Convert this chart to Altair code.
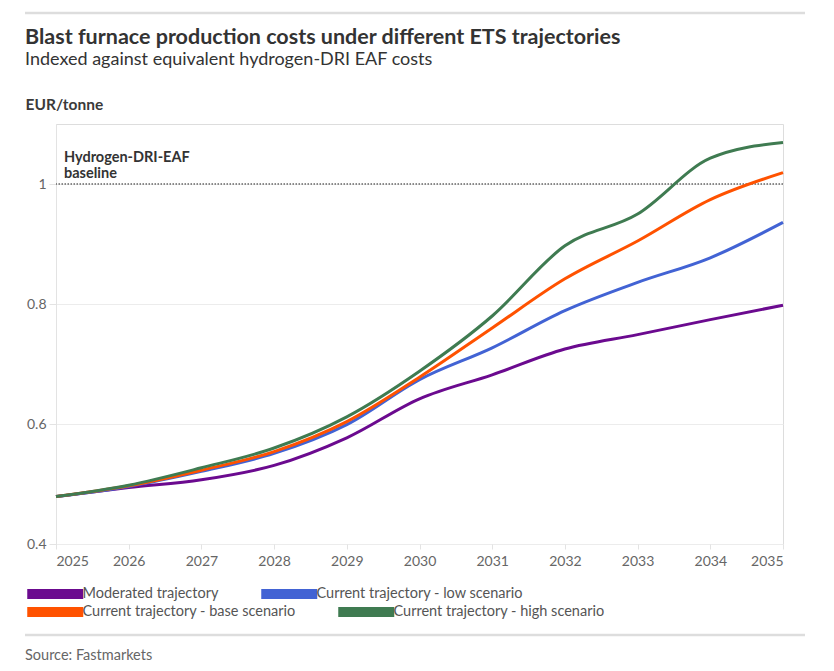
import altair as alt
import pandas as pd

years = [2025, 2026, 2027, 2028, 2029, 2030, 2031, 2032, 2033, 2034, 2035]
series_names = [
    "Moderated trajectory",
    "Current trajectory - low scenario",
    "Current trajectory - base scenario",
    "Current trajectory - high scenario",
]
moderated = [0.479, 0.494, 0.507, 0.531, 0.577, 0.642, 0.682, 0.725, 0.749, 0.774, 0.798]
low = [0.479, 0.496, 0.521, 0.551, 0.599, 0.674, 0.727, 0.789, 0.836, 0.877, 0.936]
base = [0.479, 0.497, 0.523, 0.554, 0.604, 0.678, 0.760, 0.842, 0.905, 0.974, 1.019]
high = [0.479, 0.498, 0.527, 0.560, 0.612, 0.688, 0.780, 0.897, 0.950, 1.043, 1.069]
colors = ["#6b0a8f", "#4263d4", "#ff5200", "#3f7b51"]
baseline_value = [1.0]
baseline_label = [["Hydrogen-DRI-EAF", "baseline"]]
y_ticks = [0.4, 0.6, 0.8, 1.0]
title_text = "Blast furnace production costs under different ETS trajectories"
subtitle_text = "Indexed against equivalent hydrogen-DRI EAF costs"
source_str = "Source: Fastmarkets"

rows = []
for name, vals in zip(series_names, [moderated, low, base, high]):
    for yr, v in zip(years, vals):
        rows.append({"year": yr, "value": v, "series": name, "order": series_names.index(name)})
df = pd.DataFrame(rows)

FONT = "Lato"

x_enc = alt.X(
    "year:Q",
    scale=alt.Scale(domain=[2025, 2035], nice=False),
    axis=alt.Axis(
        values=years, format="d", title=None, grid=False, domain=False,
        tickColor="#e3e3e3", tickSize=5, labelPadding=5,
        labelFontSize=14, labelColor="#666666", labelFont=FONT,
    ),
)
y_enc = alt.Y(
    "value:Q",
    scale=alt.Scale(domain=[0.4, 1.1], nice=False, zero=False),
    axis=alt.Axis(
        values=y_ticks, title="EUR/tonne", titleAngle=0, titleX=-31, titleY=-15,
        titleAlign="left", titleBaseline="alphabetic", titleFontSize=15.5,
        titleFontWeight="bold", titleColor="#3a3a3a", titleFont=FONT,
        grid=True, gridColor="#ececec", domainColor="#e3e3e3",
        tickColor="#e3e3e3", tickSize=7, labelPadding=3,
        labelFontSize=14, labelColor="#666666", labelFont=FONT,
        labelExpr="datum.value == 1 ? '1' : format(datum.value, '.1f')",
    ),
)

lines = alt.Chart(df).mark_line(strokeWidth=3, interpolate="monotone").encode(
    x=x_enc,
    y=y_enc,
    color=alt.Color(
        "series:N",
        scale=alt.Scale(domain=series_names, range=colors),
        legend=None,
    ),
    order=alt.Order("order:Q"),
)


def legend_row(names, cols, ly):
    return alt.Chart(df).transform_filter("false").mark_point(filled=True).encode(
        x=alt.X("year:Q"),
        y=alt.Y("value:Q"),
        fill=alt.Fill(
            "series:N",
            scale=alt.Scale(domain=names, range=cols),
            legend=alt.Legend(
                title=None, orient="none", legendX=-8, legendY=ly,
                direction="horizontal",
                symbolType="M-5.6,-1L5.6,-1L5.6,1L-5.6,1Z", symbolSize=100,
                symbolStrokeWidth=0, symbolOpacity=1,
                labelOffset=20, columnPadding=42,
                labelFontSize=14.5, labelColor="#555555", labelFont=FONT,
                labelLimit=400,
            ),
        ),
    )


legend_a = legend_row(series_names[:2], colors[:2], 462.5)
legend_b = legend_row(series_names[2:], colors[2:], 480.5)

base_df = pd.DataFrame({"y": baseline_value, "year": [2025], "label": baseline_label})
base_rule = alt.Chart(base_df).mark_rule(
    color="#666666", strokeWidth=1.5, strokeDash=[1.5, 1.5]
).encode(y=alt.Y("y:Q", scale=alt.Scale(domain=[0.4, 1.1])))

base_text = alt.Chart(base_df).mark_text(
    align="left", baseline="alphabetic", dx=8, dy=-22, fontSize=14.5,
    fontWeight="bold", color="#333333", font=FONT, lineHeight=16,
).encode(
    x=alt.X("year:Q"), y=alt.Y("y:Q"), text="label"
)

top_rule = alt.Chart(pd.DataFrame({"a": [0]})).mark_rule(
    color="#dddddd", strokeWidth=2.5
).encode(x=alt.value(-31), x2=alt.value(749), y=alt.value(-111))

bottom_rule = alt.Chart(pd.DataFrame({"a": [0]})).mark_rule(
    color="#dddddd", strokeWidth=2.5
).encode(x=alt.value(-31), x2=alt.value(749), y=alt.value(511))

title_mark = alt.Chart(pd.DataFrame({"t": [title_text]})).mark_text(
    align="left", baseline="alphabetic", fontSize=21.5, fontWeight="bold",
    color="#333333", font=FONT
).encode(text="t:N", x=alt.value(-31), y=alt.value(-80))

subtitle_mark = alt.Chart(pd.DataFrame({"t": [subtitle_text]})).mark_text(
    align="left", baseline="alphabetic", fontSize=18,
    color="#333333", font=FONT
).encode(text="t:N", x=alt.value(-31), y=alt.value(-59))

source_text = alt.Chart(pd.DataFrame({"t": [source_str]})).mark_text(
    align="left", baseline="alphabetic", fontSize=14.5, color="#666666", font=FONT
).encode(text="t:N", x=alt.value(-31), y=alt.value(536))

chart = alt.layer(
    base_rule, lines, legend_a, legend_b, base_text, top_rule, bottom_rule,
    title_mark, subtitle_mark, source_text
).resolve_scale(color="independent", fill="independent").properties(
    width=727,
    height=420,
    autosize=alt.AutoSizeParams(type="none"),
    padding={"left": 48, "top": 116, "right": 40, "bottom": 119},
).configure_view(stroke=None).configure(background="white")

chart.save("out.html", embed_options={"renderer": "svg", "actions": False})
